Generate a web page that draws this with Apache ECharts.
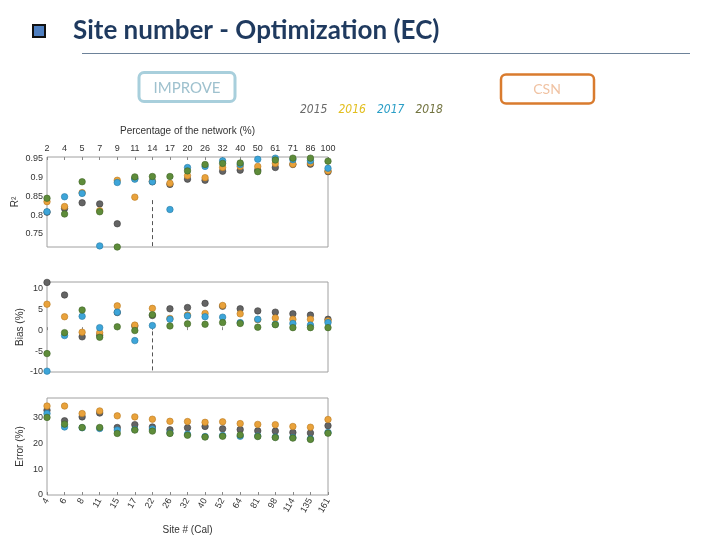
<!DOCTYPE html>
<html><head><meta charset="utf-8">
<script src="https://cdn.jsdelivr.net/npm/echarts@6/dist/echarts.min.js"></script>
<style>html,body{margin:0;padding:0;background:#fff}#c{width:720px;height:540px}</style>
</head><body><div id="c"></div>
<script>
const pctLabels = ['2','4','5','7','9','11','14','17','20','26','32','40','50','61','71','86','100'];
const siteLabels = ['4','6','8','11','15','17','22','26','32','40','52','64','81','98','114','135','161'];
const years = ['2015','2016','2017','2018'];
const r2Ticks = [0.75, 0.8, 0.85, 0.9, 0.95];
const biasTicks = [-10, -5, 0, 5, 10];
const errTicks = [0, 10, 20, 30];

const r2_2015 = [0.808,0.818,0.833,0.830,0.777,0.898,0.889,0.882,0.896,0.893,0.917,0.920,0.920,0.927,0.935,0.936,0.916];
const r2_2016 = [0.836,0.823,0.860,0.812,0.893,0.848,0.891,0.885,0.905,0.900,0.927,0.930,0.930,0.938,0.936,0.939,0.918];
const r2_2017 = [0.809,0.849,0.858,0.718,0.887,0.896,0.889,0.815,0.927,0.930,0.945,0.935,0.949,0.952,0.948,0.945,0.925];
const r2_2018 = [0.845,0.803,0.889,0.809,0.715,0.902,0.903,0.903,0.918,0.935,0.938,0.939,0.916,0.947,0.952,0.952,0.944];

const bias_2015 = [11.4,8.4,-1.6,-1.2,4.2,1.0,3.5,5.1,5.4,6.4,5.7,5.1,4.6,4.3,3.9,3.6,2.6];
const bias_2016 = [6.2,3.2,-0.5,-0.6,5.8,1.2,5.2,2.8,3.6,4.0,5.9,3.9,2.5,2.9,2.6,2.6,2.2];
const bias_2017 = [-9.8,-1.3,3.3,0.6,4.3,-2.5,1.1,2.6,3.4,3.2,3.1,1.8,2.6,1.4,1.6,1.2,1.8];
const bias_2018 = [-5.6,-0.6,4.8,-1.7,0.8,-0.1,3.7,1.0,1.5,1.4,1.8,1.6,0.7,1.3,0.6,0.6,0.6];

const err_2015 = [32.8,28.7,30.2,31.7,26.1,27.2,26.3,25.2,26.0,26.5,25.6,25.3,24.8,24.7,24.2,24.0,26.8];
const err_2016 = [34.4,34.4,31.5,32.5,30.6,30.2,29.3,28.5,28.4,28.1,28.3,27.6,27.3,27.2,26.5,26.2,29.2];
const err_2017 = [31.5,26.3,26.0,25.7,25.1,25.3,25.5,24.0,23.5,22.6,23.0,22.7,22.8,22.4,22.2,21.7,24.2];
const err_2018 = [30.0,27.4,26.1,26.1,23.8,25.1,24.7,23.8,23.1,22.4,22.7,23.2,22.6,22.2,22.0,21.5,23.9];

const colors = ['#646464', '#E9A23B', '#3DA5D9', '#5E8C3A'];
const borders = ['#3c3c3c', '#b87a22', '#2a7aa3', '#3f6526'];
const legendColors = ['#6A6A6A', '#E2BE1E', '#2A9EC6', '#72733F'];

const FONT = 'Liberation Sans, Arial, sans-serif';
const axisTxt = {fontSize: 9, color: '#333', fontFamily: FONT};
const nameTxt = {fontSize: 10, color: '#333', fontFamily: FONT};

function fmt(v){ return String(+(+v).toFixed(2)); }

const panels = [
  {data:[r2_2015,r2_2016,r2_2017,r2_2018], dash:[0.84, 0.715]},
  {data:[bias_2015,bias_2016,bias_2017,bias_2018], dash:[-0.3, -10]},
  {data:[err_2015,err_2016,err_2017,err_2018], dash:[37.5, 0]}
];

const series = [];
panels.forEach((p, gi) => {
  p.data.forEach((arr, k) => {
    const s = {
      name: years[k], type: 'scatter', xAxisIndex: gi, yAxisIndex: gi,
      data: arr, symbolSize: 6.5, clip: false, z: 3 + k,
      itemStyle: {color: colors[k], borderColor: borders[k], borderWidth: 0.6, opacity: 1}
    };
    if (k === 0) {
      s.markLine = {silent: true, symbol: 'none', animation: false,
        lineStyle: {type: [4, 3], color: '#555', width: 1}, label: {show: false},
        data: [[{coord: ['14', p.dash[0]]}, {coord: ['14', p.dash[1]]}]]};
    }
    series.push(s);
  });
});

const grids = [
  {left: 47, top: 157, width: 281, height: 90},
  {left: 47, top: 282, width: 281, height: 90},
  {left: 47, top: 398, width: 281, height: 97}
].map(g => Object.assign(g, {show: true, borderColor: '#a0a0a0', borderWidth: 1, backgroundColor: 'transparent'}));

const tickStyle = {inside: true, length: 3, lineStyle: {color: '#888'}};

const option = {
  animation: false,
  backgroundColor: '#fff',
  legend: {
    data: years.map((y, i) => ({name: y, textStyle: {color: legendColors[i]}})),
    left: 289, top: 99, itemWidth: 0, itemHeight: 0, itemGap: 5,
    icon: 'rect', selectedMode: false,
    textStyle: {fontSize: 12, fontStyle: 'italic', fontFamily: 'Liberation Sans Narrow, DejaVu Sans Condensed, sans-serif', padding: 0}
  },
  grid: grids,
  xAxis: [
    {gridIndex: 0, type: 'category', data: pctLabels, boundaryGap: false, position: 'top',
     name: 'Percentage of the network (%)', nameLocation: 'middle', nameGap: 21, nameTextStyle: nameTxt,
     axisLine: {show: false}, axisTick: tickStyle, axisLabel: Object.assign({interval: 0, margin: 4}, axisTxt),
     splitLine: {show: false}},
    {gridIndex: 1, type: 'category', data: pctLabels, boundaryGap: false,
     axisLine: {show: false}, axisTick: tickStyle, axisLabel: {show: false}, splitLine: {show: false}},
    {gridIndex: 2, type: 'category', data: siteLabels, boundaryGap: false,
     name: 'Site # (Cal)', nameLocation: 'middle', nameGap: 30, nameTextStyle: nameTxt,
     axisLine: {show: false}, axisTick: tickStyle,
     axisLabel: Object.assign({interval: 0, rotate: 60, margin: 4}, axisTxt), splitLine: {show: false}}
  ],
  yAxis: [
    {gridIndex: 0, type: 'value', min: 0.715, max: 0.955, name: 'R²', nameLocation: 'middle', nameGap: 27,
     nameTextStyle: nameTxt, axisLine: {show: false},
     axisTick: Object.assign({customValues: r2Ticks}, tickStyle),
     axisLabel: Object.assign({customValues: r2Ticks, formatter: fmt, margin: 4}, axisTxt),
     splitLine: {show: false}},
    {gridIndex: 1, type: 'value', min: -10, max: 11.5, name: 'Bias (%)', nameLocation: 'middle', nameGap: 22,
     nameTextStyle: nameTxt, axisLine: {show: false},
     axisTick: Object.assign({customValues: biasTicks}, tickStyle),
     axisLabel: Object.assign({customValues: biasTicks, formatter: fmt, margin: 4}, axisTxt),
     splitLine: {show: false}},
    {gridIndex: 2, type: 'value', min: 0, max: 37.5, name: 'Error (%)', nameLocation: 'middle', nameGap: 22,
     nameTextStyle: nameTxt, axisLine: {show: false},
     axisTick: Object.assign({customValues: errTicks}, tickStyle),
     axisLabel: Object.assign({customValues: errTicks, formatter: fmt, margin: 4}, axisTxt),
     splitLine: {show: false}}
  ],
  graphic: [
    {type: 'rect', shape: {x: 33, y: 25, width: 12, height: 12}, style: {fill: '#4F7FC0', stroke: '#111', lineWidth: 2}},
    {type: 'text', x: 73, y: 31, style: {text: 'Site number - Optimization (EC)', fill: '#1F3A5F',
      font: 'bold 26px Lato, sans-serif', textVerticalAlign: 'middle'}},
    {type: 'line', shape: {x1: 82, y1: 53.5, x2: 690, y2: 53.5}, style: {stroke: '#6D8299', lineWidth: 1}},
    {type: 'rect', shape: {x: 139, y: 72.5, width: 96, height: 29, r: 5}, style: {fill: 'none', stroke: '#A8CFDC', lineWidth: 3}},
    {type: 'text', x: 187, y: 88, style: {text: 'IMPROVE', fill: '#9EC1CE', font: '15px Lato, sans-serif',
      textAlign: 'center', textVerticalAlign: 'middle'}},
    {type: 'rect', shape: {x: 501, y: 74.5, width: 93, height: 29, r: 5}, style: {fill: 'none', stroke: '#D97B2E', lineWidth: 2.5}},
    {type: 'text', x: 547, y: 89, style: {text: 'CSN', fill: '#F0C2A2', font: '14px Lato, sans-serif',
      textAlign: 'center', textVerticalAlign: 'middle'}}
  ],
  series: series
};

const chart = echarts.init(document.getElementById('c'), null, {renderer: 'canvas'});
chart.setOption(option);
</script></body></html>
